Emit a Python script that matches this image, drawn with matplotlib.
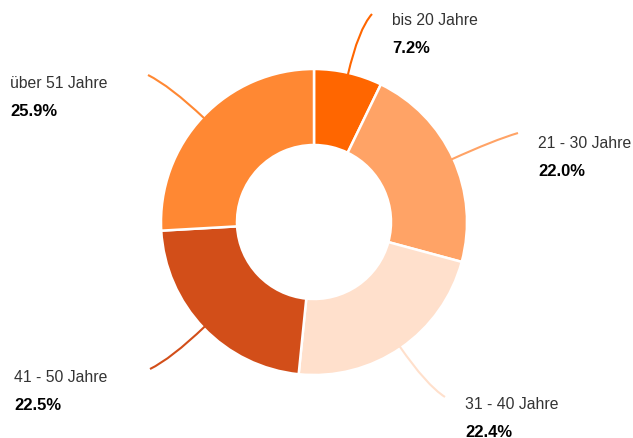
import numpy as np
import matplotlib.pyplot as plt
from matplotlib.path import Path
from matplotlib.patches import PathPatch

labels = ["bis 20 Jahre", "21 - 30 Jahre", "31 - 40 Jahre", "41 - 50 Jahre", "über 51 Jahre"]
shares = [7.2, 22.0, 22.4, 22.5, 25.9]
colors = ["#ff6600", "#ffa366", "#ffe0cc", "#d24e19", "#ff8833"]

# label anchor (end of leader line) and text position, in pixels from top-left
line_ends = [(372, 15), (518, 134), (445, 398), (150, 370), (148, 76)]
text_pos = [(392, 20), (538, 143), (465, 405), (14, 378), (10, 84)]

W, H = 633, 439
cx, cy, r_out, r_in = 314, H - 223, 153, 77

fig = plt.figure(figsize=(W / 100, H / 100), dpi=100)
ax = fig.add_axes([0, 0, 1, 1])
ax.pie(shares, colors=colors, startangle=90, counterclock=False,
       center=(cx, cy), radius=r_out,
       wedgeprops=dict(width=r_out - r_in, edgecolor="white", linewidth=1.8))
ax.set_xlim(0, W)
ax.set_ylim(0, H)
ax.set_aspect("equal")
ax.axis("off")

total = sum(shares)
cum = 0
for lab, val, col, end, tp in zip(labels, shares, colors, line_ends, text_pos):
    mid = np.deg2rad(90 - (cum + val / 2) / total * 360)
    cum += val
    sx, sy = cx + (r_out - 2) * np.cos(mid), cy + (r_out - 2) * np.sin(mid)
    r_c = r_out + 45
    ctl = (cx + r_c * np.cos(mid), cy + r_c * np.sin(mid))
    ex, ey = end[0], H - end[1]
    path = Path([(sx, sy), ctl, (ex, ey)], [Path.MOVETO, Path.CURVE3, Path.CURVE3])
    ax.add_patch(PathPatch(path, facecolor="none", edgecolor=col, linewidth=1.5))
    ax.text(tp[0], H - tp[1], lab, fontsize=11.3, color="#333333",
            family="Liberation Sans", va="center", ha="left")
    ax.text(tp[0], H - tp[1] - 28, f"{val:.1f}%", fontsize=12, color="black",
            family="Liberation Sans", fontweight="bold", va="center", ha="left")

fig.savefig("out.png", dpi=100)
